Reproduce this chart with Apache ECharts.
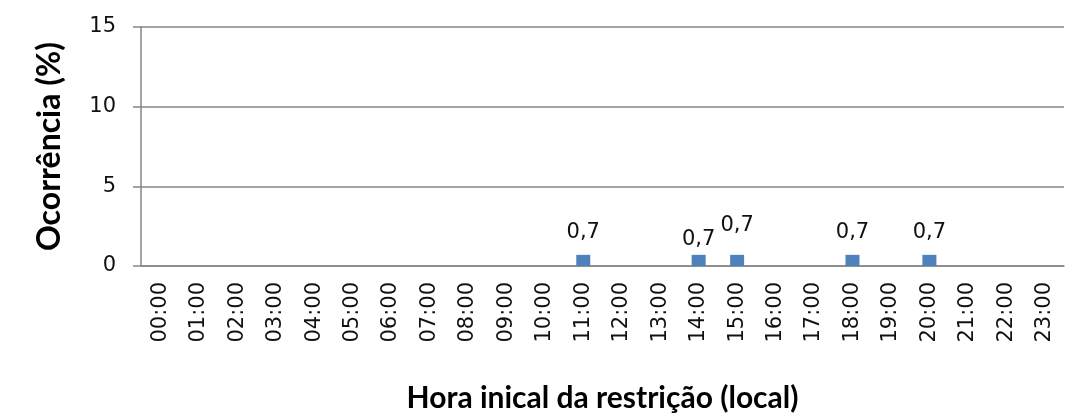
<!DOCTYPE html>
<html>
<head>
<meta charset="utf-8">
<script src="https://cdn.jsdelivr.net/npm/echarts@6/dist/echarts.min.js"></script>
<style>
html,body{margin:0;padding:0;background:#fff;}
#chart{width:1077px;height:415px;}
</style>
</head>
<body>
<div id="chart"></div>
<script>
// categorias (hora inicial) e ocorrência (%)
var horas = ['00:00','01:00','02:00','03:00','04:00','05:00','06:00','07:00','08:00','09:00','10:00','11:00',
             '12:00','13:00','14:00','15:00','16:00','17:00','18:00','19:00','20:00','21:00','22:00','23:00'];
var ocorrencia = [0,0,0,0,0,0,0,0,0,0,0,0.7,0,0,0.7,0.7,0,0,0.7,0,0.7,0,0,0];
var yTicks = [0, 5, 10, 15];

// deslocamento vertical dos rótulos (evita sobreposição, como no Excel)
var labelShift = {14: 7, 15: -7};

var barData = ocorrencia.map(function(v, i){
  if (!v) return {value: null};
  var item = {value: v};
  if (labelShift[i]) item.label = {offset: [0, labelShift[i]]};
  return item;
});

var chart = echarts.init(document.getElementById('chart'));
chart.setOption({
  animation: false,
  backgroundColor: '#fff',
  grid: {left: 141, right: 13, top: 27, bottom: 149, outerBoundsMode: 'none', containLabel: false},
  xAxis: {
    type: 'category',
    data: horas,
    name: 'Hora inical da restrição (local)',
    nameLocation: 'middle',
    nameGap: 117,
    nameTextStyle: {fontFamily: 'Lato', fontWeight: 'bold', fontSize: 30, color: '#000'},
    axisLine: {lineStyle: {color: '#868686', width: 1.5}},
    axisTick: {show: false},
    axisLabel: {rotate: 90, margin: 16, fontFamily: 'DejaVu Sans', fontSize: 21, color: '#111'}
  },
  yAxis: {
    type: 'value',
    min: yTicks[0],
    max: yTicks[yTicks.length - 1],
    interval: 5,
    name: 'Ocorrência (%)',
    nameLocation: 'middle',
    nameGap: 75,
    nameTextStyle: {fontFamily: 'Lato', fontWeight: 'bold', fontSize: 32, color: '#000'},
    axisLine: {show: true, lineStyle: {color: '#868686', width: 1.5}},
    axisTick: {show: true, length: 8, lineStyle: {color: '#868686', width: 1.5}},
    axisLabel: {margin: 25, fontFamily: 'DejaVu Sans', fontSize: 21, color: '#111'},
    splitLine: {lineStyle: {color: '#868686', width: 1.5}}
  },
  series: [{
    type: 'bar',
    data: barData,
    barWidth: 14,
    itemStyle: {color: '#4F81BD'},
    label: {
      show: true,
      position: 'top',
      distance: 12,
      fontFamily: 'DejaVu Sans',
      fontSize: 21,
      color: '#111',
      formatter: function(p){ return String(p.value).replace('.', ','); }
    }
  }]
});
</script>
</body>
</html>
